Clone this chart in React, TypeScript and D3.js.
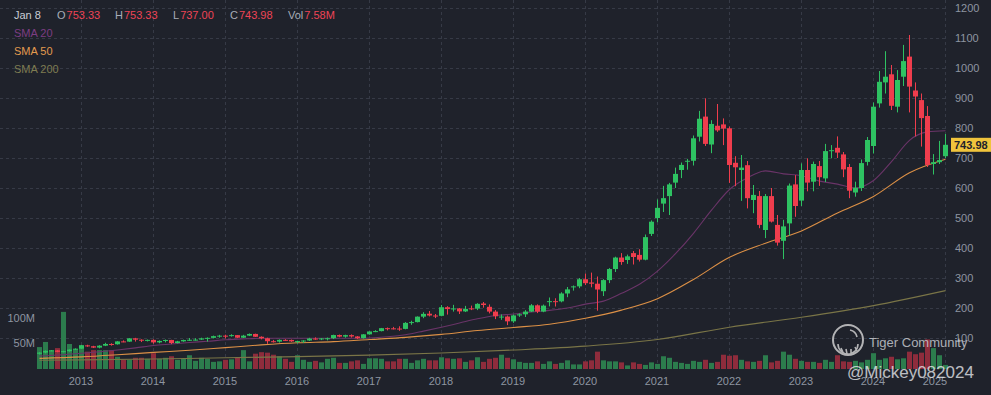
import { useEffect } from "react";
import * as d3 from "d3";

const BG = "#1f222b";
const GRID = "#363a46";
const AXIS_TEXT = "#8e95a1";
const UP = "#2ec262";
const DOWN = "#ef3d4d";
const VOL_UP = "#2c7c4d";
const VOL_DOWN = "#8e2c3c";
const FONT = "'Liberation Sans', Arial, sans-serif";

// monthly candles, Jun 2012 .. Jan 2025
const monthKey = d3.utcFormat("%Y-%m");
const months = d3
  .utcMonth.range(new Date(Date.UTC(2012, 5, 1)), new Date(Date.UTC(2025, 1, 1)))
  .map(monthKey);

const opens = [
  47.5, 51.4, 57.3, 58.6, 53.7, 56.1, 61.3,
  64.4, 75.4, 72.5, 68.0, 74.4, 80.1, 79.1, 88.7, 87.9, 98.8, 94.3, 92.1,
  93.7, 85.4, 90.3, 93.4, 83.2, 88.8, 93.3, 94.1, 94.7, 98.8, 100.5, 106.2,
  107.8, 106.6, 109.6, 101.0, 107.9, 113.5, 104.1, 99.0, 89.3, 87.9, 93.8, 93.5,
  88.8, 89.8, 91.6, 98.2, 96.6, 98.5, 99.2, 109.9, 104.6, 109.6, 105.1, 99.3,
  112.2, 121.8, 123.0, 132.8, 132.2, 131.5, 130.3, 150.4, 153.0, 171.2, 181.0, 175.0,
  173.8, 202.6, 196.4, 198.5, 188.6, 198.8, 197.9, 215.0, 204.0, 188.0, 169.5, 171.5,
  155.6, 175.3, 178.9, 188.0, 208.9, 188.1, 220.0, 222.8, 222.1, 248.4, 270.0, 272.1,
  295.9, 285.0, 281.0, 256.0, 293.0, 329.9, 368.2, 360.0, 383.0, 377.0, 361.1, 447.0,
  500.0, 548.0, 573.0, 618.0, 660.0, 688.0, 690.8, 771.0, 838.0, 745.0, 807.5, 812.0,
  799.0, 684.0, 660.0, 676.0, 560.0, 573.0, 460.0, 573.0, 477.0, 424.0, 482.0, 612.0,
  558.0, 660.0, 621.0, 673.0, 632.0, 723.0, 734.0, 712.0, 670.0, 585.0, 600.0, 687.0,
  740.0, 882.0, 952.0, 979.0, 871.0, 971.0, 1038.0, 925.0, 893.0, 840.0, 680.0, 686.0,
  706.0,
];

const highs = [
  52.5, 58.5, 60.0, 59.5, 57.5, 62.0, 65.5,
  77.0, 77.5, 74.0, 76.0, 84.0, 82.5, 89.5, 92.0, 99.5, 100.5, 95.5, 95.0,
  95.5, 92.0, 95.0, 94.0, 90.5, 94.5, 100.0, 99.5, 101.0, 102.0, 108.0, 110.5,
  111.0, 112.5, 110.0, 110.5, 115.0, 114.5, 105.5, 101.0, 93.5, 95.5, 96.0, 95.0,
  91.0, 92.5, 100.5, 102.0, 100.0, 101.5, 111.0, 111.5, 111.0, 112.0, 106.5, 113.0,
  122.5, 126.0, 133.5, 135.0, 137.0, 139.0, 153.0, 157.5, 172.0, 186.0, 190.0, 180.0,
  210.0, 206.0, 210.5, 200.0, 207.0, 208.0, 216.0, 220.0, 212.0, 193.0, 178.5, 175.0,
  178.0, 182.0, 193.0, 213.0, 212.0, 211.5, 235.0, 232.5, 252.5, 270.0, 275.0, 300.0,
  315.0, 318.0, 305.0, 296.0, 333.0, 371.0, 383.0, 378.0, 390.0, 396.0, 445.0, 492.0,
  562.0, 607.0, 617.0, 668.0, 685.0, 697.0, 775.0, 857.0, 899.0, 826.0, 880.0, 832.0,
  805.0, 706.0, 710.0, 690.0, 610.0, 590.0, 580.0, 600.0, 510.0, 494.0, 615.0, 643.0,
  682.0, 699.0, 688.0, 690.0, 747.0, 743.0, 772.0, 720.0, 680.0, 621.0, 695.0, 770.0,
  885.0, 990.0, 1056.0, 1010.0, 993.0, 1077.0, 1110.0, 952.0, 915.0, 873.0, 713.0, 757.0,
  780.0,
];

const lows = [
  45.0, 49.0, 55.5, 52.5, 52.0, 54.5, 60.5,
  63.5, 70.5, 66.5, 65.5, 73.0, 74.5, 78.0, 86.0, 87.0, 88.0, 86.5, 88.5,
  81.0, 82.5, 85.5, 79.5, 82.0, 87.5, 90.0, 91.5, 93.5, 88.0, 98.5, 101.0,
  98.5, 104.5, 99.5, 100.0, 106.5, 103.5, 95.5, 80.5, 85.0, 84.5, 90.5, 87.0,
  82.0, 83.5, 90.0, 94.0, 93.0, 92.0, 96.5, 102.5, 101.0, 101.5, 96.5, 98.0,
  111.0, 119.5, 122.0, 125.5, 128.5, 124.0, 129.0, 144.0, 152.0, 166.0, 172.0, 166.5,
  172.5, 178.0, 188.0, 180.0, 186.5, 193.0, 193.0, 201.0, 182.0, 163.0, 160.5, 143.0,
  150.5, 170.5, 170.0, 186.5, 183.0, 186.0, 205.5, 205.0, 219.0, 236.0, 258.0, 266.0,
  276.5, 269.0, 191.0, 240.0, 283.0, 320.0, 344.0, 347.0, 345.0, 355.0, 359.0, 440.0,
  486.0, 520.0, 510.0, 600.0, 633.0, 661.0, 675.0, 755.0, 740.0, 716.0, 787.0, 743.0,
  617.0, 606.0, 557.0, 532.0, 516.0, 466.0, 433.0, 485.0, 408.0, 363.0, 441.0, 504.0,
  540.0, 589.0, 589.0, 607.0, 620.0, 699.0, 700.0, 636.0, 566.0, 571.0, 590.0, 675.0,
  715.0, 868.0, 915.0, 860.0, 852.0, 940.0, 852.0, 772.0, 738.0, 670.0, 645.0, 680.0,
  700.0,
];

const closes = [
  51.4, 57.3, 58.6, 53.7, 56.1, 61.3, 64.4,
  75.4, 72.5, 68.0, 74.4, 80.1, 79.1, 88.7, 87.9, 98.8, 94.3, 92.1, 93.7,
  85.4, 90.3, 93.4, 83.2, 88.8, 93.3, 94.1, 94.7, 98.8, 100.5, 106.2, 107.8,
  106.6, 109.6, 101.0, 107.9, 113.5, 104.1, 99.0, 89.3, 87.9, 93.8, 93.5, 88.8,
  89.8, 91.6, 98.2, 96.6, 98.5, 99.2, 109.9, 104.6, 109.6, 105.1, 99.3, 112.2,
  121.8, 123.0, 132.8, 132.2, 131.5, 130.3, 150.4, 153.0, 171.2, 180.4, 175.0, 173.8,
  202.6, 196.4, 198.5, 188.6, 197.0, 197.9, 213.8, 210.0, 188.0, 172.4, 171.5, 155.6,
  175.3, 178.9, 188.0, 208.9, 188.1, 207.9, 222.8, 222.1, 248.4, 262.1, 272.1, 295.9,
  282.7, 281.0, 261.6, 293.0, 329.9, 368.2, 353.2, 372.2, 370.0, 361.1, 436.2, 487.7,
  533.8, 566.2, 612.0, 647.0, 677.0, 690.8, 765.7, 830.9, 747.0, 813.5, 792.0, 798.0,
  676.7, 669.0, 668.0, 566.0, 577.0, 477.0, 573.0, 488.0, 418.0, 472.0, 608.0, 540.0,
  660.0, 618.0, 680.0, 636.0, 723.0, 726.0, 718.0, 662.0, 591.0, 601.0, 683.0, 760.0,
  871.0, 954.0, 971.0, 874.0, 960.0, 1023.0, 938.0, 905.0, 833.0, 677.0, 686.0, 693.0,
  743.98,
];

// monthly volume, millions
const volumes = [
  43, 53, 37, 41, 112, 49, 39,
  47, 34, 37, 37, 37, 37, 24, 18, 18, 22, 22, 20,
  31, 20, 22, 25, 18, 20, 27, 16, 22, 20, 14, 15,
  18, 19, 22, 37, 15, 30, 33, 32, 28, 25, 20, 14,
  27, 18, 14, 16, 13, 20, 22, 12, 12, 15, 17, 10,
  21, 21, 20, 15, 15, 20, 20, 12, 17, 20, 17, 17,
  23, 21, 20, 21, 14, 17, 23, 14, 20, 22, 28, 22,
  19, 14, 12, 12, 15, 10, 15, 10, 12, 17, 9, 9,
  15, 17, 34, 17, 15, 15, 13, 7, 13, 10, 8, 13,
  10, 25, 22, 14, 12, 10, 16, 14, 18, 12, 14, 28,
  26, 27, 18, 15, 14, 16, 27, 13, 16, 34, 28, 20,
  16, 14, 14, 12, 18, 14, 27, 15, 14, 16, 13, 18,
  31, 18, 21, 24, 19, 21, 34, 29, 32, 58, 41, 27,
  8,
];

// moving averages
const sma20: [string, number][] = [
  ["2012-06", 40], ["2012-10", 44], ["2013-01", 49], ["2013-04", 54], ["2013-07", 60],
  ["2013-10", 67], ["2014-01", 75], ["2014-04", 80], ["2014-07", 85], ["2014-10", 89],
  ["2015-01", 94], ["2015-04", 97], ["2015-07", 99], ["2015-10", 99], ["2016-01", 99],
  ["2016-04", 99], ["2016-07", 99], ["2016-10", 99], ["2017-01", 100], ["2017-04", 104],
  ["2017-07", 111], ["2017-10", 123], ["2018-01", 136], ["2018-04", 150], ["2018-07", 164],
  ["2018-10", 175], ["2019-01", 180], ["2019-04", 187], ["2019-07", 192], ["2019-10", 200],
  ["2020-01", 213], ["2020-04", 223], ["2020-07", 249], ["2020-10", 279], ["2021-01", 323],
  ["2021-04", 381], ["2021-07", 449], ["2021-10", 526], ["2022-01", 595], ["2022-04", 634],
  ["2022-07", 657], ["2022-10", 647], ["2023-01", 641], ["2023-04", 623], ["2023-07", 613],
  ["2023-10", 600], ["2024-01", 625], ["2024-04", 688], ["2024-07", 759], ["2024-10", 787],
  ["2025-01", 791],
];

const sma50: [string, number][] = [
  ["2012-06", 32], ["2013-01", 37], ["2013-07", 44], ["2014-01", 52], ["2014-07", 59],
  ["2015-01", 68], ["2015-07", 77], ["2016-01", 84], ["2016-07", 88], ["2017-01", 95],
  ["2017-07", 102], ["2018-01", 112], ["2018-07", 125], ["2019-01", 135], ["2019-07", 146],
  ["2020-01", 166], ["2020-07", 193], ["2021-01", 231], ["2021-07", 295], ["2022-01", 369],
  ["2022-07", 416], ["2023-01", 457], ["2023-07", 517], ["2024-01", 572], ["2024-07", 651],
  ["2025-01", 696],
];

const sma200: [string, number][] = [
  ["2012-06", 26], ["2013-01", 27], ["2014-01", 30], ["2015-01", 34], ["2016-01", 38],
  ["2017-01", 43], ["2018-01", 50], ["2019-01", 60], ["2020-01", 73], ["2021-01", 95],
  ["2022-01", 136], ["2023-01", 169], ["2024-01", 208], ["2025-01", 258],
];

const priceTicks = [100, 200, 300, 400, 500, 600, 700, 800, 900, 1000, 1100, 1200];
const volumeTicks = [50, 100];
const years = ["2013", "2014", "2015", "2016", "2017", "2018", "2019", "2020", "2021", "2022", "2023", "2024", "2025"];

const legendQuote = [
  { label: "O", value: "753.33", x: 57 },
  { label: "H", value: "753.33", x: 115 },
  { label: "L", value: "737.00", x: 173 },
  { label: "C", value: "743.98", x: 230 },
  { label: "Vol", value: "7.58M", x: 288 },
];
const smaLegend = [
  { label: "SMA 20", color: "#7c3d82" },
  { label: "SMA 50", color: "#e39a4e" },
  { label: "SMA 200", color: "#7f7d52" },
];
const lastPrice = "743.98";

export default function App() {
  useEffect(() => {
    document.body.style.margin = "0";
    document.body.style.background = BG;
  }, []);

  const width = 991;
  const height = 395;
  const plotRight = 948;

  const x = d3.scalePoint<string>().domain(months).range([36, plotRight]).padding(0.5);
  const y = d3.scaleLinear().domain([0, 1200]).range([368, 8]);
  const yVol = d3.scaleLinear().domain([0, 100]).range([369, 318]);

  const candles = months.map((m, i) => ({
    m,
    o: opens[i],
    h: highs[i],
    l: lows[i],
    c: closes[i],
    v: volumes[i],
  }));

  const maLine = d3
    .line<[string, number]>()
    .x((d) => x(d[0])! + 0.5)
    .y((d) => y(d[1]))
    .curve(d3.curveMonotoneX);

  return (
    <svg width={width} height={height} style={{ display: "block", background: BG }}>
      <rect width={width} height={height} fill={BG} />

      {/* grid */}
      <g stroke={GRID} strokeDasharray="3,3" strokeWidth={1}>
        {priceTicks.map((t) => (
          <line key={t} x1={0} x2={plotRight} y1={Math.round(y(t)) + 0.5} y2={Math.round(y(t)) + 0.5} />
        ))}
        {years.map((yr) => {
          const px = Math.round(x(`${yr}-01`)!) + 0.5;
          return <line key={yr} x1={px} x2={px} y1={0} y2={372} />;
        })}
      </g>

      {/* volume */}
      <g>
        {candles.map((d) => {
          const cx = Math.round(x(d.m)!);
          const top = yVol(d.v);
          return (
            <rect
              key={d.m}
              x={cx - 2}
              y={top}
              width={5}
              height={yVol(0) - top}
              fill={d.c >= d.o ? VOL_UP : VOL_DOWN}
            />
          );
        })}
      </g>

      {/* moving averages */}
      <g fill="none" strokeWidth={1.1}>
        <path d={maLine(sma200)!} stroke="#7a7547" />
        <path d={maLine(sma50)!} stroke="#dc9046" />
        <path d={maLine(sma20)!} stroke="#6a3468" />
      </g>

      {/* candles */}
      <g>
        {candles.map((d) => {
          const cx = Math.round(x(d.m)!);
          const color = d.c >= d.o ? UP : DOWN;
          const yTop = y(Math.max(d.o, d.c));
          const yBot = y(Math.min(d.o, d.c));
          return (
            <g key={d.m}>
              <line x1={cx + 0.5} x2={cx + 0.5} y1={y(d.h)} y2={y(d.l)} stroke={color} strokeWidth={1} />
              <rect x={cx - 2} y={yTop} width={5} height={Math.max(1, yBot - yTop)} fill={color} />
            </g>
          );
        })}
      </g>

      {/* price axis */}
      <g fontFamily={FONT} fontSize={11} fill={AXIS_TEXT}>
        {priceTicks.map((t) => (
          <text key={t} x={955} y={y(t)} dy="0.35em">
            {t}
          </text>
        ))}
        {volumeTicks.map((t) => (
          <text key={t} x={35} y={yVol(t)} dy="0.35em" textAnchor="end">
            {t}M
          </text>
        ))}
        {years.map((yr) => {
          const cx = Math.min(x(`${yr}-01`)!, plotRight - 13);
          return (
            <text key={yr} x={cx} y={385} textAnchor="middle">
              {yr}
            </text>
          );
        })}
      </g>

      {/* last price tag */}
      <rect x={951} y={y(743.98) - 7} width={40} height={14} fill="#f0c43c" />
      <text
        x={954}
        y={y(743.98)}
        dy="0.35em"
        fontFamily={FONT}
        fontSize={11}
        fontWeight="bold"
        fill="#1f222b"
      >
        {lastPrice}
      </text>

      {/* legend */}
      <g fontFamily={FONT} fontSize={11}>
        <text x={14} y={19} fill="#c9cdd5">
          Jan 8
        </text>
        {legendQuote.map((q) => (
          <text key={q.label} x={q.x} y={19} fill="#a7adb8">
            {q.label}
            <tspan dx={1} fill="#ee4456">
              {q.value}
            </tspan>
          </text>
        ))}
        {smaLegend.map((s, i) => (
          <text key={s.label} x={14} y={37 + i * 18} fill={s.color}>
            {s.label}
          </text>
        ))}
      </g>

      {/* watermark */}
      <g opacity={0.8}>
        <circle cx={848} cy={340} r={15} fill="none" stroke="#d8d8d8" strokeWidth={2} />
        <path
          d="M838,344 A10,10 0 0 0 858,344 M841,348 L843,352 M846,349 L847,354 M851,349 L851,354 M855,347 L857,351 M850,330 A9,9 0 0 1 857,337"
          fill="none"
          stroke="#d8d8d8"
          strokeWidth={1.6}
        />
        <text x={869} y={347} fontFamily={FONT} fontSize={13} fill="#cfd2d8">
          Tiger Community
        </text>
        <text x={847} y={378} fontFamily={FONT} fontSize={17} fill="#e4e6ea">
          @Mickey082024
        </text>
      </g>
    </svg>
  );
}
